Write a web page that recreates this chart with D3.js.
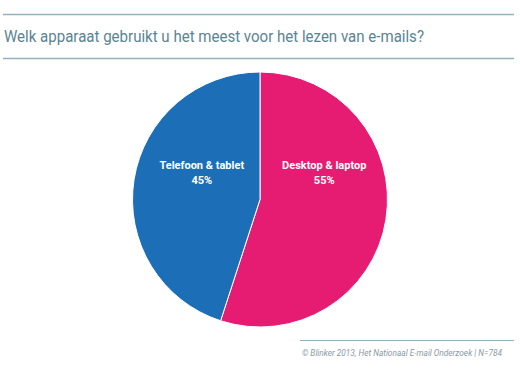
<!DOCTYPE html>
<html><head><meta charset="utf-8">
<script src="https://cdn.jsdelivr.net/npm/d3@7"></script>
<style>body{margin:0;background:#fff}svg{display:block}</style>
</head><body>
<svg id="c" width="520" height="374"></svg>
<script>
const categories = ["Desktop & laptop", "Telefoon & tablet"];
const values = [55, 45];
const colors = ["#e61c72", "#1c6fb6"];
const title = "Welk apparaat gebruikt u het meest voor het lezen van e-mails?";
const source = "© Blinker 2013, Het Nationaal E-mail Onderzoek | N=784";

const svg = d3.select("#c");
svg.append("line").attr("x1",3).attr("x2",514).attr("y1",14.5).attr("y2",14.5).attr("stroke","#93b2c0").attr("stroke-width",1.5);
svg.append("text").attr("x",4).attr("y",42).text(title)
  .attr("font-family","Roboto").attr("font-weight",400).attr("font-size",16.5).attr("fill","#5a8494")
  .attr("textLength",420).attr("lengthAdjust","spacingAndGlyphs");
svg.append("line").attr("x1",3).attr("x2",514).attr("y1",58.5).attr("y2",58.5).attr("stroke","#93b2c0").attr("stroke-width",1.5);

const cx = 260, cy = 199.5, R = 127.5;
const pie = d3.pie().sort(null).value(d=>d.v);
const arcs = pie(categories.map((c,i)=>({c, v:values[i], col:colors[i]})));
const arc = d3.arc().innerRadius(0).outerRadius(R);
const g = svg.append("g").attr("transform",`translate(${cx},${cy})`);
g.selectAll("path").data(arcs).join("path").attr("d",arc)
  .attr("fill",d=>d.data.col).attr("stroke","#fff").attr("stroke-width",1);
const lab = d3.arc().innerRadius(62).outerRadius(62);
const t = g.selectAll("text").data(arcs).join("text")
  .attr("transform",d=>`translate(${lab.centroid(d)[0]+3},-31)`)
  .attr("text-anchor","middle").attr("font-family","Roboto").attr("font-weight",700)
  .attr("font-size",11).attr("fill","#fff");
t.append("tspan").attr("x",0).attr("dy",0).text(d=>d.data.c);
t.append("tspan").attr("x",0).attr("dy",15).text(d=>d.data.v+"%");

svg.append("line").attr("x1",300).attr("x2",514).attr("y1",340.5).attr("y2",340.5).attr("stroke","#93b2c0").attr("stroke-width",1);
svg.append("text").attr("x",302).attr("y",356).text(source)
  .attr("font-family","Roboto").attr("font-style","italic").attr("font-size",8.3).attr("fill","#8a9aa3");
</script>
</body></html>
